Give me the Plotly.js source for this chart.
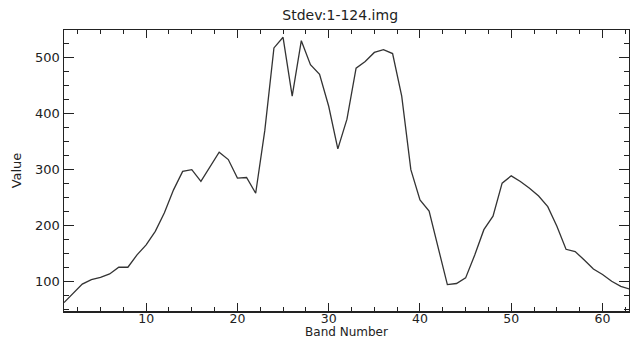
<!DOCTYPE html>
<html>
<head>
<meta charset="utf-8">
<script src="https://cdn.plot.ly/plotly-3.0.1.min.js"></script>
<style>
html,body{margin:0;padding:0;background:#fff;}
#chart{width:630px;height:338px;}
</style>
</head>
<body>
<div id="chart"></div>
<script>
const bands = [1,2,3,4,5,6,7,8,9,10,11,12,13,14,15,16,17,18,19,20,21,22,23,24,25,26,27,28,29,30,31,32,33,34,35,36,37,38,39,40,41,42,43,44,45,46,47,48,49,50,51,52,53,54,55,56,57,58,59,60,61,62,63];
const values = [63,80,96,104,108,114,126,126,148,166,190,223,264,297,300,279,306,331,318,285,286,258,370,517,536,431,530,487,470,413,337,390,481,493,509,514,507,431,300,246,226,163,95,97,107,148,193,217,276,289,279,267,253,234,199,158,154,139,123,113,101,92,87];
const titleText = "Stdev:1-124.img";
const xTitle = "Band Number";
const yTitle = "Value";

const axisColor = "#222";
const fontFam = "DejaVu Sans, Liberation Sans, sans-serif";

const trace = {
  x: bands, y: values, type: "scatter", mode: "lines",
  line: {color: "#333", width: 1.3},
  hoverinfo: "skip"
};

const layout = {
  width: 630, height: 338,
  margin: {l: 64, r: 1, t: 30, b: 27},
  paper_bgcolor: "#fff", plot_bgcolor: "#fff",
  showlegend: false,
  font: {family: fontFam, color: axisColor, size: 13},
  title: {text: titleText, x: 0.54, xanchor: "center", y: 0.97, yanchor: "top",
          font: {family: fontFam, size: 14, color: axisColor}},
  xaxis: {
    range: [1, 62.9], tickvals: [10,20,30,40,50,60], ticks: "inside", ticklen: 8,
    tickwidth: 1, tickcolor: axisColor, showline: true, linecolor: axisColor, linewidth: 1.5,
    mirror: "allticks", showgrid: false, zeroline: false,
    tickfont: {size: 12.5, family: fontFam, color: axisColor},
    minor: {dtick: 2.5, tick0: 0, ticks: "inside", ticklen: 4, tickcolor: axisColor, showgrid: false},
    title: {text: xTitle, standoff: 0, font: {size: 12, family: fontFam, color: axisColor}},
    automargin: false
  },
  yaxis: {
    range: [48, 549], tickvals: [100,200,300,400,500], ticks: "inside", ticklen: 10,
    tickwidth: 1, tickcolor: axisColor, showline: true, linecolor: axisColor, linewidth: 1.5,
    mirror: "allticks", showgrid: false, zeroline: false,
    tickfont: {size: 13, family: fontFam, color: axisColor},
    minor: {dtick: 25, tick0: 0, ticks: "inside", ticklen: 5, tickcolor: axisColor, showgrid: false},
    title: {text: yTitle, standoff: 10, font: {size: 13, family: fontFam, color: axisColor}},
    automargin: false
  }
};

Plotly.newPlot("chart", [trace], layout, {staticPlot: true, displayModeBar: false}).then(function(gd){
  // lift the x tick labels a little, as in the reference where they sit close to the axis
  gd.querySelectorAll('.xaxislayer-above .xtick text').forEach(function(t){
    const y = parseFloat(t.getAttribute('y') || 0);
    t.setAttribute('y', y - 5);
  });
  const xt = gd.querySelector('.g-xtitle text');
  if (xt) { xt.setAttribute('transform', 'translate(0,1)'); }
});
</script>
</body>
</html>
